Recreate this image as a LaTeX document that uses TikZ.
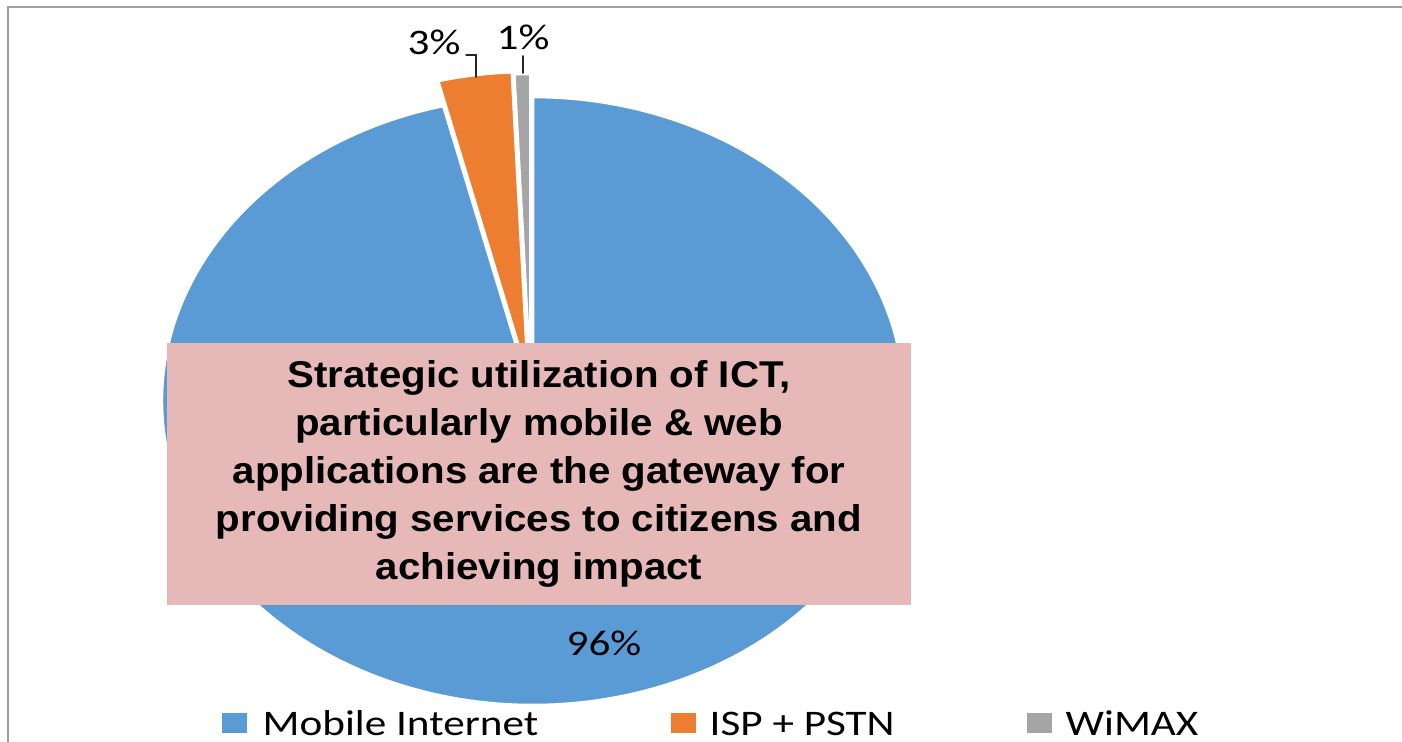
\documentclass[tikz,border=0pt]{standalone}
\usepackage{fontspec}
\setmainfont{Carlito}
\newfontfamily\boxfont{Liberation Sans}
\usepackage{tikz}
\usetikzlibrary{positioning,calc}

\definecolor{mobileblue}{HTML}{5B9BD5}
\definecolor{isporange}{HTML}{ED7D31}
\definecolor{wimaxgray}{HTML}{A5A5A5}
\definecolor{notepink}{HTML}{E6B8B7}
\definecolor{framegray}{HTML}{A0A0A0}

% chart text is stretched sideways, as in the pasted chart
\newcommand{\stretchx}[1]{\scalebox{1.2}[1]{#1}}
\newcommand{\boxline}[1]{\scalebox{1.08}[1]{#1}}

\tikzset{
  slice/.style={draw=white, line width=0.75pt, line join=round},
  pct/.style={font=\fontsize{10.24}{12}\selectfont, inner sep=0.05cm},
  leader/.style={draw=black!85, line width=0.45pt},
  keybox/.style={inner sep=0pt, minimum width=0.25cm, minimum height=0.20cm, anchor=south west},
  keytext/.style={font=\fontsize{10.24}{12}\selectfont, inner sep=0pt, anchor=base west},
  msgbox/.style={fill=notepink, draw=none, inner sep=0pt, align=center,
    font=\boxfont\bfseries\fontsize{10.6}{13.66}\selectfont}
}

\begin{document}
\begin{tikzpicture}[x=1cm, y=1cm, line cap=round]

% --- pie parameters (stretched ellipse) ---
\def\cx{5.33}
\def\cy{3.41}
\def\rx{3.71}
\def\ry{3.04}

\useasboundingbox (0,0) rectangle (14.02,7.42);

% frame of the chart area
\draw[framegray, line width=0.6pt] (0.08,0) -- (0.08,7.35) -- (14.02,7.35);

% ------------------ pie slices ------------------
% Mobile Internet (not exploded)
\filldraw[slice, fill=mobileblue]
  (\cx,\cy) -- ({\cx+\rx*cos(-256)},{\cy+\ry*sin(-256)})
  arc[start angle=-256, end angle=90, x radius=\rx cm, y radius=\ry cm] -- cycle;

% ISP + PSTN (exploded)
\begin{scope}[shift={(-0.05,0.25)}]
  \filldraw[slice, fill=isporange]
    (\cx,\cy) -- ({\cx+\rx*cos(104)},{\cy+\ry*sin(104)})
    arc[start angle=104, end angle=92.5, x radius=\rx cm, y radius=\ry cm] -- cycle;
\end{scope}

% WiMAX (exploded)
\begin{scope}[shift={(-0.025,0.23)}]
  \filldraw[slice, fill=wimaxgray]
    (\cx,\cy) -- ({\cx+\rx*cos(92.5)},{\cy+\ry*sin(92.5)})
    arc[start angle=92.5, end angle=90, x radius=\rx cm, y radius=\ry cm] -- cycle;
\end{scope}

% ------------------ data labels ------------------
\node[pct, anchor=base] (lblisp) at (4.34,6.87) {\stretchx{3\%}};
\node[pct, anchor=base] (lblwimax) at (5.23,6.92) {\stretchx{1\%}};
\node[pct, anchor=base] (lblmobile) at (6.04,0.86) {\stretchx{96\%}};

\coordinate (ispend) at (4.76,6.65);
\coordinate (wimaxend) at (5.23,6.69);
\draw[leader] (lblisp.base east) -| (ispend);
\draw[leader] (lblwimax.south) -- (wimaxend);

% ------------------ message box ------------------
\node[msgbox, minimum width=7.44cm, minimum height=2.62cm] (msg) at (5.39,2.68)
  {\boxline{Strategic utilization of ICT,}\\
   \boxline{particularly mobile \& web}\\
   \boxline{applications are the gateway for}\\
   \boxline{providing services to citizens and}\\
   \boxline{achieving impact}};

% ------------------ legend ------------------
\node[keybox, fill=mobileblue] (keymobile) at (2.21,0.08) {};
\node[keytext] (txtmobile) at (2.62,0.06) {\stretchx{Mobile Internet}};

\node[keybox, fill=isporange] (keyisp) at (6.70,0.08) {};
\node[keytext] (txtisp) at (7.09,0.06) {\stretchx{ISP + PSTN}};

\node[keybox, fill=wimaxgray] (keywimax) at (10.26,0.08) {};
\node[keytext] (txtwimax) at (10.65,0.06) {\stretchx{WiMAX}};

\end{tikzpicture}
\end{document}
